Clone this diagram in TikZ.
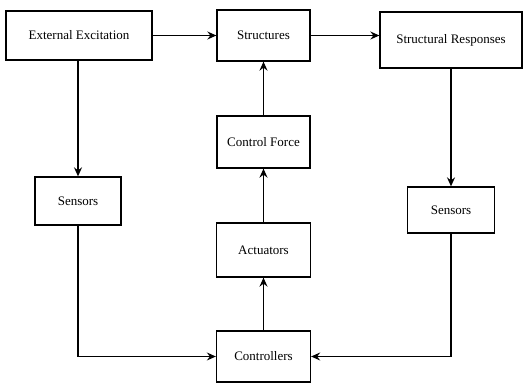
\documentclass[tikz,border=0pt]{standalone}
\usepackage{fontspec}
\setmainfont{Liberation Serif}
\usetikzlibrary{shapes,arrows,positioning,calc,arrows.meta}
\tikzstyle{block} = [rectangle, draw, line width=1.3pt, font=\fontsize{13}{15}\selectfont, inner sep=2pt]
\tikzstyle{arrow} = [-{Stealth[length=9pt,width=8pt,inset=3pt]}, line width=1.3pt]

\begin{document}
\begin{tikzpicture}[x=1pt, y=-1pt]
    \useasboundingbox (0,0) rectangle (524,383);
    % Blocks
    \node[block, minimum width=146pt, minimum height=49pt] (ext) at (79,35.5) {External Excitation};
    \node[block, minimum width=93pt, minimum height=51pt] (struct) at (263.5,35.5) {Structures};
    \node[block, minimum width=142pt, minimum height=56pt] (resp) at (451,40) {Structural Responses};
    \node[block, minimum width=86pt, minimum height=48pt] (sensL) at (78,201) {Sensors};
    \node[block, minimum width=93pt, minimum height=52pt] (force) at (263.5,142) {Control Force};
    \node[block, minimum width=94pt, minimum height=54pt] (act) at (263.5,250) {Actuators};
    \node[block, minimum width=87pt, minimum height=46pt] (sensR) at (451,210) {Sensors};
    \node[block, minimum width=94pt, minimum height=51pt] (ctrl) at (263.5,356.5) {Controllers};

    % Connections
    \draw[arrow] (ext) -- (struct);
    \draw[arrow] (struct) -- (struct -| resp.west);
    \draw[arrow] (ext.south -| sensL) -- (sensL);
    \draw[arrow] (resp) -- (sensR);
    \draw[arrow] (sensL) |- (ctrl);
    \draw[arrow] (sensR) |- (ctrl);
    \draw[arrow] (ctrl) -- (act);
    \draw[arrow] (act) -- (force);
    \draw[arrow] (force) -- (struct);
\end{tikzpicture}
\end{document}
